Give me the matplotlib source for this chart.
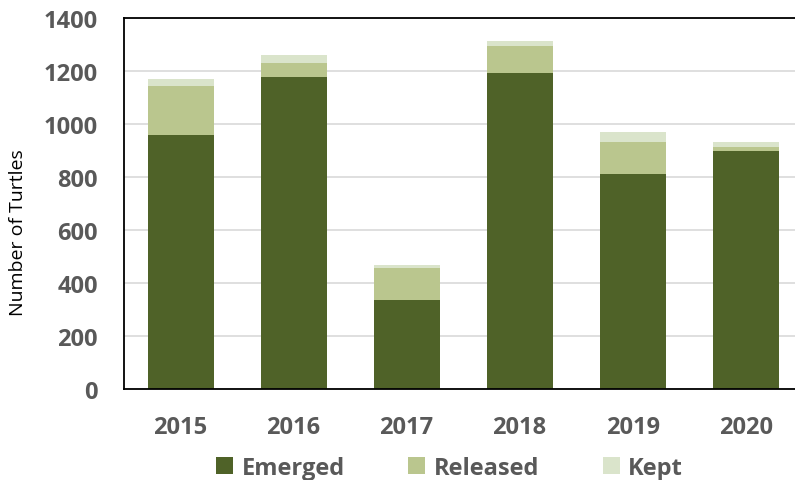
import numpy as np
import matplotlib.pyplot as plt

years = ["2015", "2016", "2017", "2018", "2019", "2020"]
emerged = [960, 1177, 334, 1194, 811, 898]
released = [184, 53, 124, 101, 122, 16]
kept = [25, 30, 11, 18, 36, 17]

c_emerged = "#4F6228"
c_released = "#BAC68E"
c_kept = "#DAE4CB"
txt = "#595959"

plt.rcParams["font.family"] = ["Open Sans", "DejaVu Sans"]

fig = plt.figure(figsize=(7.95, 4.81), dpi=100)
ax = fig.add_axes([0.156, 0.1892, 0.853, 0.7713])

x = np.arange(len(years))
w = 0.584
bottom2 = np.array(emerged)
bottom3 = bottom2 + np.array(released)
ax.bar(x, emerged, w, color=c_emerged, label="Emerged", zorder=3)
ax.bar(x, released, w, bottom=bottom2, color=c_released, label="Released", zorder=3)
ax.bar(x, kept, w, bottom=bottom3, color=c_kept, label="Kept", zorder=3)

ax.set_xlim(-0.5, len(years) - 0.5)
ax.set_ylim(0, 1400)
ax.set_yticks(range(0, 1401, 200))
ax.set_xticks(x)
ax.set_xticklabels(years)
ax.grid(axis="y", color="#D9D9D9", linewidth=1.2, zorder=0)
for s in ax.spines.values():
    s.set_color("black")
    s.set_linewidth(1.3)
    s.set_zorder(4)
ax.tick_params(length=0, labelsize=17, labelcolor=txt)
ax.tick_params(axis="y", pad=19)
ax.tick_params(axis="x", pad=19)
for lab in ax.get_xticklabels() + ax.get_yticklabels():
    lab.set_fontweight("bold")
ax.set_ylabel("Number of Turtles", fontsize=14, color="black")
ax.yaxis.set_label_coords(-0.143, 0.425)

leg = ax.legend(loc="center", bbox_to_anchor=(0.48, -0.212), ncol=3,
                frameon=False, handlelength=0.72, handleheight=0.72,
                columnspacing=2.7, handletextpad=0.35,
                prop={"size": 17, "weight": "bold"})
for t in leg.get_texts():
    t.set_color(txt)

fig.savefig("out.png", dpi=100)
